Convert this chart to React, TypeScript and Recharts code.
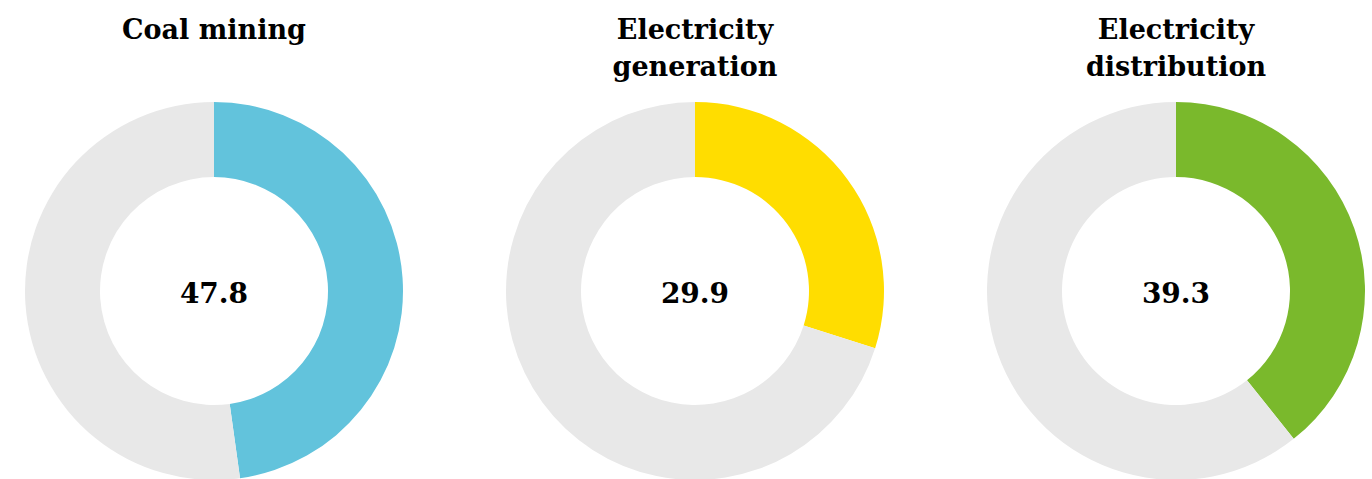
import React from "react";
import { PieChart, Pie, Cell } from "recharts";

// Share of each sector (percent), drawn clockwise from 12 o'clock
const sectorNames = ["Coal mining", "Electricity generation", "Electricity distribution"];
const titleLines = [["Coal mining"], ["Electricity", "generation"], ["Electricity", "distribution"]];
const shares = [47.8, 29.9, 39.3];
const sectorColors = ["#62C3DC", "#FFDD00", "#7AB92C"];
const restColor = "#E8E8E8";

const WIDTH = 1372;
const HEIGHT = 479;
const MARGIN = 5;
const centersX = [214, 695, 1176];
const CENTER_Y = 291;
const INNER_R = 114;
const OUTER_R = 189;

const FONT = "'DejaVu Serif', serif";

// Value printed in the hole of the donut, only for the coloured slice
const centerLabel = (props: any) => {
  if (props.index !== 0) return null;
  return (
    <text
      x={props.cx}
      y={props.cy + 2}
      textAnchor="middle"
      dominantBaseline="central"
      fill="#000"
      style={{ fontFamily: FONT, fontWeight: 700, fontSize: 28 }}
    >
      {Number(props.value).toFixed(1)}
    </text>
  );
};

export default function App() {
  return (
    <div style={{ position: "absolute", left: 0, top: 0, width: WIDTH, height: HEIGHT, background: "#fff", overflow: "hidden" }}>
      <PieChart
        width={WIDTH}
        height={HEIGHT}
        margin={{ top: MARGIN, right: MARGIN, bottom: MARGIN, left: MARGIN }}
      >
        {shares.map((v, i) => (
          <Pie
            key={sectorNames[i]}
            data={[
              { name: sectorNames[i], value: v },
              { name: "Other", value: 100 - v },
            ]}
            dataKey="value"
            cx={centersX[i] - MARGIN}
            cy={CENTER_Y - MARGIN}
            innerRadius={INNER_R}
            outerRadius={OUTER_R}
            startAngle={90}
            endAngle={-270}
            stroke="none"
            label={centerLabel}
            labelLine={false}
            isAnimationActive={false}
          >
            <Cell fill={sectorColors[i]} />
            <Cell fill={restColor} />
          </Pie>
        ))}
      </PieChart>
      {titleLines.map((lines, i) => (
        <div
          key={sectorNames[i]}
          style={{
            position: "absolute",
            left: centersX[i] - 170,
            top: 11,
            width: 340,
            textAlign: "center",
            fontFamily: FONT,
            fontWeight: 700,
            fontSize: 27,
            lineHeight: "37px",
            color: "#000",
          }}
        >
          {lines.map((l) => (
            <div key={l}>{l}</div>
          ))}
        </div>
      ))}
    </div>
  );
}
